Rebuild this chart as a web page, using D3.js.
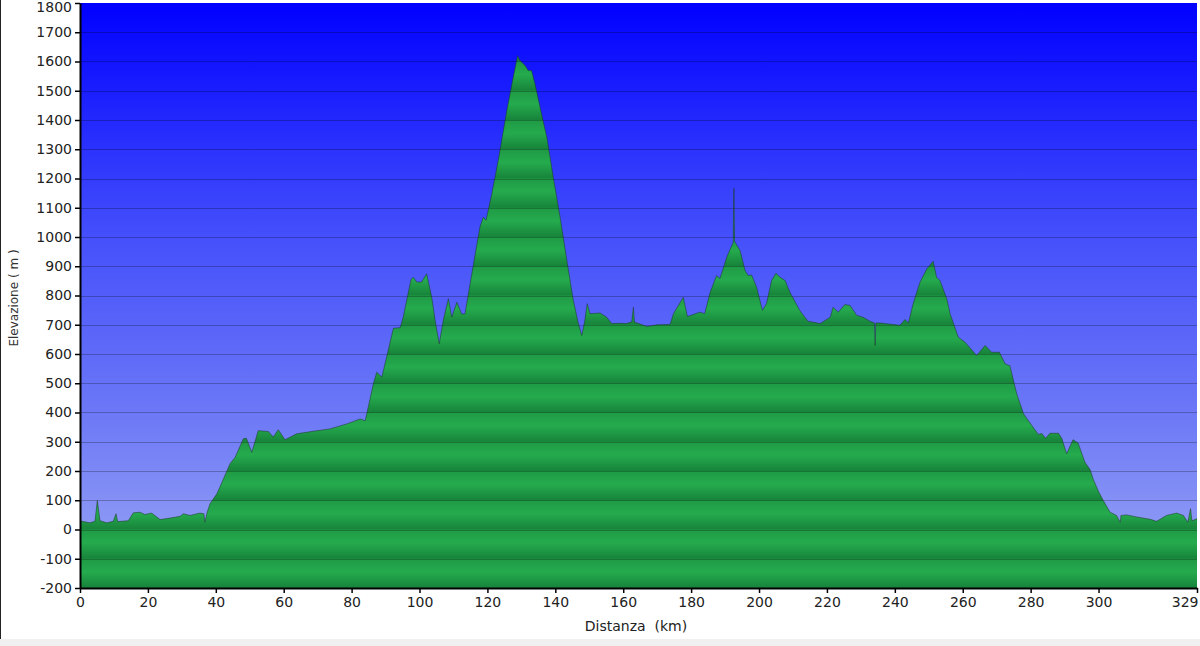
<!DOCTYPE html>
<html><head><meta charset="utf-8">
<script src="https://cdn.jsdelivr.net/npm/d3@7/dist/d3.min.js"></script>
<style>html,body{margin:0;padding:0;background:#fff;}svg{display:block;}</style>
</head><body>
<script>
const distanceKm = [0,0.5,2.9,4.4,5.1,5.9,7.9,9.8,10.6,11.1,14.2,15.7,17.7,19.1,21.1,23.6,26.5,29.5,30.4,32.4,35.3,36.5,36.8,37.4,38.3,40.3,41.2,44.2,45.7,48.1,49,50.6,52.5,55.5,56.9,58.4,60.4,63.8,68.7,73.6,78.6,82.5,84,84.9,86.4,87.4,88.9,90.3,92.3,94.3,95.2,97.5,98.2,99.2,100.6,102.1,103.6,104.6,105.8,107,108.5,109.5,111,112.4,113.4,114.9,117.8,118.8,119.6,121.3,123.2,125.7,127.6,128.9,129.6,131.1,132,133,134,135.5,137.5,139.4,141.4,143.4,145.3,146.8,147.8,148.7,149.4,150.2,153.2,155.1,156.6,159,161,162.5,163,163.3,167,170,173.8,174.8,177.7,178.9,182.6,184,185.6,187.5,188.5,190.5,192.4,192.6,192.8,194.4,195.9,196.8,197.8,199.3,201,202.2,203.7,205,206.2,207.7,209.1,212,214.4,218,221,221.8,223.3,225.3,226.8,228.8,230.6,232.7,234,234.2,234.4,235.6,241.5,243,244,245.4,247.4,249.4,251.3,252.3,253.3,255.3,256.3,258.7,260.7,264.1,266.6,268.5,270.8,272.5,273.9,275.9,277.9,280.3,282.3,283.3,284.4,285.7,288.2,289.2,290.6,292.5,294,296,297.5,298.5,300,301.4,303.4,305.3,306.4,306.6,308.3,311.2,315.2,317.1,320,323,325,326.3,327.1,327.5,329];
const elevationM = [30,28,23,28,99,30,23,28,54,27,30,57,59,51,56,34,39,45,54,48,56,54,25,57,88,122,145,225,247,310,312,264,338,335,316,341,307,327,336,344,361,378,372,418,498,538,521,589,688,690,726,855,862,846,846,874,794,715,635,715,789,726,777,737,737,840,1034,1068,1057,1148,1262,1432,1546,1620,1603,1586,1569,1569,1524,1444,1341,1204,1068,920,783,704,663,715,772,738,740,726,704,705,704,710,760,709,694,700,701,738,794,728,743,738,811,868,858,931,982,1166,985,954,885,868,870,828,749,772,851,876,862,851,811,749,712,704,726,760,743,769,766,732,726,712,706,629,706,706,698,718,706,772,845,891,917,862,851,789,737,657,640,595,629,606,606,566,560,464,396,356,325,328,312,329,329,311,259,307,295,230,205,170,130,99,59,48,25,48,50,43,35,28,48,56,48,25,71,30,37];
const yTicks = [-200,-100,0,100,200,300,400,500,600,700,800,900,1000,1100,1200,1300,1400,1500,1600,1700,1800];
const xTicks = [0,20,40,60,80,100,120,140,160,180,200,220,240,260,280,300,329];
const xLabel = "Distanza  (km)";
const yLabel = "Elevazione ( m )";

const W = 1200, H = 646;
const mLeft = 80, mRight = 1197, mTop = 3, mBottom = 588;

const svg = d3.select("body").append("svg").attr("width", W).attr("height", H);
const x = d3.scaleLinear().domain([0, 329]).range([mLeft, mRight]);
const y = d3.scaleLinear().domain([-200, 1800]).range([mBottom, mTop]);

const defs = svg.append("defs");
const sky = defs.append("linearGradient").attr("id", "sky").attr("x1", 0).attr("y1", 0).attr("x2", 0).attr("y2", 1);
[[0, "#0000ff"], [0.4, "#4550fb"], [0.7, "#6c78f6"], [1, "#9ca8f4"]].forEach(s =>
  sky.append("stop").attr("offset", s[0]).attr("stop-color", s[1]));

const band = defs.append("linearGradient").attr("id", "band").attr("x1", 0).attr("y1", 0).attr("x2", 0).attr("y2", 1);
[[0, "#1f9a45"], [0.45, "#25ab4e"], [1, "#17833a"]].forEach(s =>
  band.append("stop").attr("offset", s[0]).attr("stop-color", s[1]));
const bandH = y(0) - y(100);
const pat = defs.append("pattern").attr("id", "bands").attr("patternUnits", "userSpaceOnUse")
  .attr("x", 0).attr("y", y(1800)).attr("width", W).attr("height", bandH);
pat.append("rect").attr("width", W).attr("height", bandH).attr("fill", "url(#band)");

// bottom strip and left border
svg.append("rect").attr("x", 0).attr("y", 639).attr("width", W).attr("height", 7).attr("fill", "#f0f0f0");
svg.append("line").attr("x1", 0.5).attr("x2", 0.5).attr("y1", 0).attr("y2", 639).attr("stroke", "#222").attr("stroke-width", 1);

// plot background
svg.append("rect").attr("x", mLeft).attr("y", mTop).attr("width", mRight - mLeft).attr("height", mBottom - mTop).attr("fill", "url(#sky)");

const pts = distanceKm.map((d, i) => [d, elevationM[i]]);
const area = d3.area().x(d => x(d[0])).y0(y(-200)).y1(d => y(d[1]));
const line = d3.line().x(d => x(d[0])).y(d => y(d[1]));
svg.append("path").datum(pts).attr("d", area).attr("fill", "url(#bands)");

// gridlines
svg.append("g").selectAll("line").data(yTicks.filter(t => t > -200 && t < 1800)).join("line")
  .attr("x1", mLeft).attr("x2", mRight).attr("y1", d => Math.round(y(d)) + 0.5).attr("y2", d => Math.round(y(d)) + 0.5)
  .attr("stroke", "#000").attr("stroke-opacity", 0.25).attr("stroke-width", 1);

svg.append("path").datum(pts).attr("d", line).attr("fill", "none")
  .attr("stroke", "#1c3524").attr("stroke-opacity", 0.5).attr("stroke-width", 1);

// axes
const font = "'DejaVu Sans', Verdana, sans-serif";
const ya = svg.append("g").attr("transform", `translate(${mLeft},0)`)
  .call(d3.axisLeft(y).tickValues(yTicks).tickSize(5).tickPadding(3).tickSizeOuter(0).tickFormat(d => String(d)));
const xa = svg.append("g").attr("transform", `translate(0,${mBottom})`)
  .call(d3.axisBottom(x).tickValues(xTicks).tickSize(5).tickPadding(4).tickSizeOuter(0).tickFormat(d => String(d)));
[ya, xa].forEach(g => {
  g.select(".domain").attr("stroke", "#000").attr("stroke-width", 2);
  g.selectAll(".tick line").attr("stroke", "#000").attr("stroke-width", 1.5);
  g.selectAll("text").attr("fill", "#222").style("font-family", font).style("font-size", "14px");
});
ya.selectAll(".tick").filter(d => d === 1800).select("text").attr("y", 4);
xa.selectAll(".tick").filter(d => d === 329).select("text").attr("text-anchor", "end").attr("x", 1);

svg.append("text").attr("x", 636).attr("y", 631).attr("text-anchor", "middle")
  .style("font-family", font).style("font-size", "14px").attr("fill", "#222")
  .attr("xml:space", "preserve").style("white-space", "pre").text(xLabel);
svg.append("text").attr("transform", "translate(18,298) rotate(-90)").attr("text-anchor", "middle")
  .style("font-family", font).style("font-size", "12px").attr("fill", "#333").text(yLabel);
</script>
</body></html>
